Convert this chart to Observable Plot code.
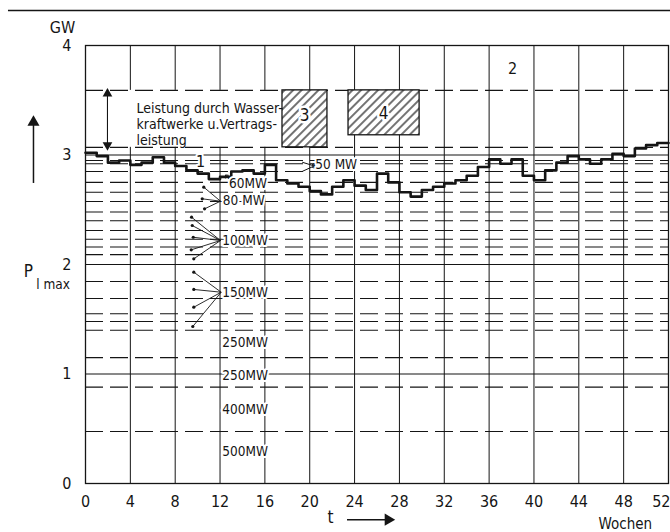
<!DOCTYPE html>
<html><head><meta charset="utf-8">
<script src="https://cdn.jsdelivr.net/npm/d3@7"></script>
<script src="https://cdn.jsdelivr.net/npm/@observablehq/plot@0.6"></script>
<style>
body{margin:0;background:#fff;}
#chart svg{display:block;}
</style></head><body><div id="chart"></div>
<script>
// ---- data ----
const weeks = [0,1,2,3,4,5,6,7,8,9,10,11,12,13,14,15,16,17,18,19,20,21,22,23,24,25,26,27,28,29,30,31,32,33,34,35,36,37,38,39,40,41,42,43,44,45,46,47,48,49,50,51,52];
const loadGW = [3.02,2.99,2.93,2.95,2.91,2.93,2.98,2.93,2.90,2.86,2.83,2.78,2.80,2.85,2.86,2.83,2.91,2.77,2.74,2.71,2.67,2.64,2.71,2.77,2.72,2.68,2.83,2.75,2.66,2.62,2.68,2.71,2.74,2.77,2.81,2.89,2.96,2.92,2.96,2.81,2.77,2.86,2.93,2.99,2.96,2.92,2.96,3.01,2.99,3.06,3.09,3.11,3.11];
const dashedGW = [3.59,3.07,2.95,2.92,2.85,2.75,2.66,2.575,2.48,2.40,2.31,2.23,2.16,2.09,1.845,1.69,1.55,1.48,1.40,1.15,0.88,0.475];
const solidGW = [1,2,3];
const xTicks = [0,4,8,12,16,20,24,28,32,36,40,44,48];
const xLastTick = [52];
const yTicks = [0,1,2,3,4];
const innerGrid = [4,8,12,16,20,24,28,32,36,40,44,48];

// hydro band (no grid inside), hatched blocks 3 and 4
const hydroBand = [{x1:0, x2:17.57, y1:3.07, y2:3.59}];
const blocks = [
  {name:"3", x1:17.57, x2:21.58, y1:3.07, y2:3.59, lx:19.54, ly:3.36},
  {name:"4", x1:23.46, x2:29.8, y1:3.18, y2:3.59, lx:26.58, ly:3.38}
];

// unit-size annotations: label, label position, pointer dots
const unitLabels = [
  {t:"50 MW", x:20.5, y:2.91},
  {t:"60MW", x:12.8, y:2.735},
  {t:"80 MW", x:12.25, y:2.584},
  {t:"100MW", x:12.2, y:2.219},
  {t:"150MW", x:12.2, y:1.747},
  {t:"250MW", x:12.2, y:1.286},
  {t:"250MW", x:12.2, y:0.986},
  {t:"400MW", x:12.2, y:0.676},
  {t:"500MW", x:12.2, y:0.292}
];
const pointers = [
  {x1:10.55, y1:2.706, x2:12.04, y2:2.578},
  {x1:10.41, y1:2.600, x2:12.04, y2:2.578},
  {x1:10.62, y1:2.508, x2:12.04, y2:2.578},
  {x1:9.46, y1:2.432, x2:12.04, y2:2.219},
  {x1:9.52, y1:2.356, x2:12.04, y2:2.219},
  {x1:9.61, y1:2.249, x2:12.04, y2:2.219},
  {x1:9.43, y1:2.134, x2:12.04, y2:2.219},
  {x1:9.66, y1:2.052, x2:12.04, y2:2.219},
  {x1:9.66, y1:1.930, x2:12.1, y2:1.747},
  {x1:9.66, y1:1.772, x2:12.1, y2:1.747},
  {x1:9.66, y1:1.610, x2:12.1, y2:1.747},
  {x1:9.57, y1:1.434, x2:12.1, y2:1.747}
];
const arrowPointers = [
  {x1:19.33, y1:2.934, x2:20.4, y2:2.90},
  {x1:19.33, y1:2.850, x2:20.4, y2:2.90},
  {x1:13.0, y1:2.76, x2:12.55, y2:2.81}
];
const hydroText = "Leistung durch Wasser-\nkraftwerke u.Vertrags-\nleistung";
const hydroTextPos = [{x:4.55, y:3.285}];
const hydroArrow = [{x:1.96, y1:3.09, y2:3.56}];
const curveLabels = [{t:"1", x:10.26, y:2.935}, {t:"2", x:38.09, y:3.79}];
const axisNotes = [
  {t:"GW", x:-2.05, y:4.16, size:16},
  {t:"t", x:21.86, y:-0.31, size:17},
  {t:"Wochen", x:48.15, y:-0.37, size:15}
];
const yArrow = [{x:-4.64, y1:2.74, y2:3.30}];
const tArrow = [{y:-0.33, x1:23.37, x2:27.0}];
const topRule = [{y:4.32, x1:-6.87, x2:52.2}];
const pLabel = [{t:"P", x:-5.1, y:1.94}];
const pSub = [{t:"l max", x:-4.4, y:1.82}];

const FONT = '"Liberation Sans Narrow","DejaVu Sans Condensed","Arial Narrow",sans-serif';
const INK = "#151515";

const chart = Plot.plot({
  width: 670, height: 532,
  marginLeft: 85, marginRight: 2, marginTop: 45, marginBottom: 49,
  x: {domain: [0, 52]},
  y: {domain: [0, 4]},
  style: {fontFamily: FONT, background: "white", color: INK},
  marks: [
    Plot.ruleX(innerGrid, {stroke: INK, strokeWidth: 1}),
    Plot.rect(hydroBand, {x1:"x1", x2:"x2", y1:"y1", y2:"y2", fill: "white"}),
    Plot.ruleY(dashedGW, {stroke: INK, strokeWidth: 1.1, strokeDasharray: "18,7"}),
    Plot.ruleY(solidGW, {stroke: INK, strokeWidth: 1.1}),
    Plot.frame({stroke: INK, strokeWidth: 1.3}),
    Plot.ruleY(topRule, {y:"y", x1:"x1", x2:"x2", stroke: INK, strokeWidth: 1.6, clip: false}),
    Plot.rect(blocks, {x1:"x1", x2:"x2", y1:"y1", y2:"y2", fill: "white"}),
    Plot.rect(blocks, {x1:"x1", x2:"x2", y1:"y1", y2:"y2", fill: "url(#hatch)", stroke: INK, strokeWidth: 1.3}),
    Plot.text(blocks, {x:"lx", y:"ly", text:"name", fontSize: 17, fill: INK, stroke: "white", strokeWidth: 5}),
    Plot.line(weeks.map((w, i) => ({w, v: loadGW[i]})), {x:"w", y:"v", curve: "step-after", stroke: INK, strokeWidth: 2.6}),
    Plot.link(pointers, {x1:"x1", y1:"y1", x2:"x2", y2:"y2", stroke: INK, strokeWidth: 0.9}),
    Plot.dot(pointers, {x:"x1", y:"y1", r: 1.6, fill: INK, stroke: null}),
    Plot.link(arrowPointers, {x1:"x1", y1:"y1", x2:"x2", y2:"y2", stroke: INK, strokeWidth: 1, markerEnd: "arrow"}),
    Plot.text(unitLabels, {x:"x", y:"y", text:"t", textAnchor: "start", fontSize: 13.5, fill: INK, stroke: "white", strokeWidth: 4}),
    Plot.text(curveLabels, {x:"x", y:"y", text:"t", fontSize: 16, fill: INK, stroke: "white", strokeWidth: 4}),
    Plot.text(hydroTextPos, {x:"x", y:"y", text: () => hydroText, textAnchor: "start", lineAnchor: "middle", lineHeight: 1.15, fontSize: 14, fill: INK}),
    Plot.ruleX(hydroArrow, {x:"x", y1:"y1", y2:"y2", stroke: INK, strokeWidth: 1.1}),
    Plot.dot(hydroArrow, {x:"x", y:"y2", symbol: "triangle", r: 3.6, fill: INK, stroke: null}),
    Plot.dot(hydroArrow, {x:"x", y:"y1", symbol: "triangle", rotate: 180, r: 3.6, fill: INK, stroke: null}),
    Plot.ruleX(yArrow, {x:"x", y1:"y1", y2:"y2", stroke: INK, strokeWidth: 1.5, clip: false}),
    Plot.dot(yArrow, {x:"x", y:"y2", symbol: "triangle", r: 4.5, fill: INK, stroke: null, clip: false}),
    Plot.ruleY(tArrow, {y:"y", x1:"x1", x2:"x2", stroke: INK, strokeWidth: 1.5, clip: false}),
    Plot.dot(tArrow, {x:"x2", y:"y", symbol: "triangle", rotate: 90, r: 4.5, fill: INK, stroke: null, clip: false}),
    Plot.text(axisNotes, {x:"x", y:"y", text:"t", fontSize: d => d.size, fill: INK, clip: false}),
    Plot.text(pLabel, {x:"x", y:"y", text:"t", fontSize: 17, fill: INK, clip: false}),
    Plot.text(pSub, {x:"x", y:"y", text:"t", textAnchor: "start", fontSize: 13.5, fill: INK, clip: false}),
    Plot.axisX(xTicks, {tickSize: 0, tickPadding: 12, fontSize: 16, label: null, tickFormat: d => String(d)}),
    Plot.axisX(xLastTick, {tickSize: 0, tickPadding: 12, fontSize: 16, label: null, textAnchor: "end", dx: 2, tickFormat: d => String(d)}),
    Plot.axisY(yTicks, {tickSize: 0, tickPadding: 14, fontSize: 16, label: null, tickFormat: d => String(d)})
  ]
});

// hatch pattern used by the blocks
const svgSel = d3.select(chart);
const defs = svgSel.insert("defs", ":first-child");
const pat = defs.append("pattern").attr("id", "hatch").attr("patternUnits", "userSpaceOnUse")
  .attr("width", 6).attr("height", 6).attr("patternTransform", "rotate(45)");
pat.append("line").attr("x1", 1).attr("y1", 0).attr("x2", 1).attr("y2", 6)
  .attr("stroke", INK).attr("stroke-width", 1.2);

document.getElementById("chart").appendChild(chart);
</script>
</body></html>
